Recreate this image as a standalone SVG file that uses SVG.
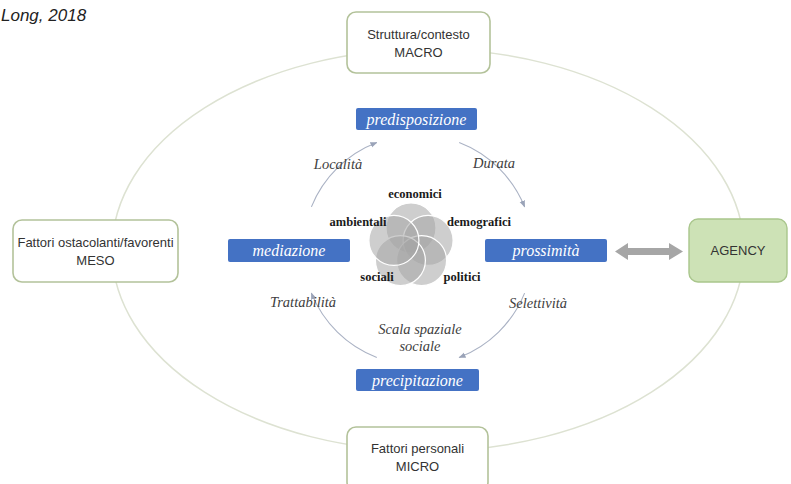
<svg xmlns="http://www.w3.org/2000/svg" width="791" height="484" viewBox="0 0 791 484">
<style>
.box{fill:#ffffff;stroke:#b3c29a;stroke-width:1.6}
.btxt{font-family:"Liberation Sans","Noto Sans",sans-serif;font-size:13px;fill:#333333;text-anchor:middle}
.blue{fill:#4472c4}
.wtxt{font-family:"Liberation Serif",serif;font-style:italic;font-size:16px;fill:#ffffff;text-anchor:middle}
.itxt{font-family:"Liberation Serif",serif;font-style:italic;font-size:14.5px;fill:#404040;text-anchor:middle}
.vtxt{font-family:"Liberation Serif",serif;font-weight:bold;font-size:12.5px;fill:#1a1a1a;text-anchor:middle}
.arc{fill:none;stroke:#aab2c4;stroke-width:1.1;marker-end:url(#ah)}
.petal{fill:#a6a6a6;fill-opacity:0.55;stroke:#ffffff;stroke-width:1.2}
</style>
<defs>
<marker id="ah" viewBox="0 0 10 10" refX="9" refY="5" markerWidth="7" markerHeight="7" orient="auto" markerUnits="userSpaceOnUse">
<path d="M0,1 L10,5 L0,9 Z" fill="#9aa3b8"/>
</marker>
</defs>
<rect width="791" height="484" fill="#ffffff"/>
<text x="1" y="21" font-family="'Liberation Sans','Noto Sans',sans-serif" font-style="italic" font-size="17" fill="#222222">Long, 2018</text>

<g id="connectors">
<ellipse cx="428" cy="250" rx="316" ry="201" fill="none" stroke="#dde2d2" stroke-width="1.5"/>
<path class="arc" d="M311.4,206.9 A115,115 0 0 1 376.8,142.6"/>
<path class="arc" d="M459.2,142.6 A115,115 0 0 1 524.6,206.9"/>
<path class="arc" d="M524.6,293.1 A115,115 0 0 1 459.2,357.4"/>
<path class="arc" d="M376.8,357.4 A115,115 0 0 1 311.4,293.1"/>
<path id="dbl" d="M615,251.5 L628,243 L628,248 L669,248 L669,243 L683,251.5 L669,260 L669,255 L628,255 L628,260 Z" fill="#a6a6a6"/>
</g>

<g id="macro">
<rect class="box" x="347" y="12" width="143" height="61" rx="9"/>
<text class="btxt" x="418.5" y="39">Struttura/contesto</text>
<text class="btxt" x="418.5" y="57">MACRO</text>
</g>
<g id="meso">
<rect class="box" x="13" y="220" width="165" height="62" rx="9"/>
<text class="btxt" x="95.5" y="247">Fattori ostacolanti/favorenti</text>
<text class="btxt" x="95.5" y="265">MESO</text>
</g>
<g id="micro">
<rect class="box" x="347" y="427" width="141" height="64" rx="9"/>
<text class="btxt" x="417.5" y="453">Fattori personali</text>
<text class="btxt" x="417.5" y="471">MICRO</text>
</g>
<g id="agency">
<rect x="689" y="219" width="98" height="63" rx="9" fill="#cde2b6" stroke="#a9c68c" stroke-width="1.4"/>
<text class="btxt" x="738" y="255">AGENCY</text>
</g>

<g id="predisposizione">
<rect class="blue" x="356" y="108" width="121" height="22" rx="2"/>
<text class="wtxt" x="416.5" y="124.5">predisposizione</text>
</g>
<g id="mediazione">
<rect class="blue" x="228" y="239" width="122" height="23" rx="2"/>
<text class="wtxt" x="289" y="256">mediazione</text>
</g>
<g id="prossimita">
<rect class="blue" x="485" y="239" width="122" height="23" rx="2"/>
<text class="wtxt" x="546" y="256">prossimità</text>
</g>
<g id="precipitazione">
<rect class="blue" x="356" y="369" width="123" height="22" rx="2"/>
<text class="wtxt" x="417.5" y="385.5">precipitazione</text>
</g>

<g id="venn">
<circle class="petal" cx="411" cy="228" r="25"/>
<circle class="petal" cx="428.1" cy="240.4" r="25"/>
<circle class="petal" cx="421.6" cy="260.6" r="25"/>
<circle class="petal" cx="400.4" cy="260.6" r="25"/>
<circle class="petal" cx="393.9" cy="240.4" r="25"/>
</g>
<g id="venn-labels">
<text class="vtxt" x="415" y="198">economici</text>
<text class="vtxt" x="358" y="226">ambientali</text>
<text class="vtxt" x="479" y="226">demografici</text>
<text class="vtxt" x="377" y="281">sociali</text>
<text class="vtxt" x="462" y="281">politici</text>
</g>

<g id="arc-labels">
<text class="itxt" x="338" y="169">Località</text>
<text class="itxt" x="494" y="168">Durata</text>
<text class="itxt" x="303" y="307">Trattabilità</text>
<text class="itxt" x="538" y="308">Selettività</text>
<text class="itxt" x="420" y="334">Scala spaziale</text>
<text class="itxt" x="420" y="351">sociale</text>
</g>
</svg>
